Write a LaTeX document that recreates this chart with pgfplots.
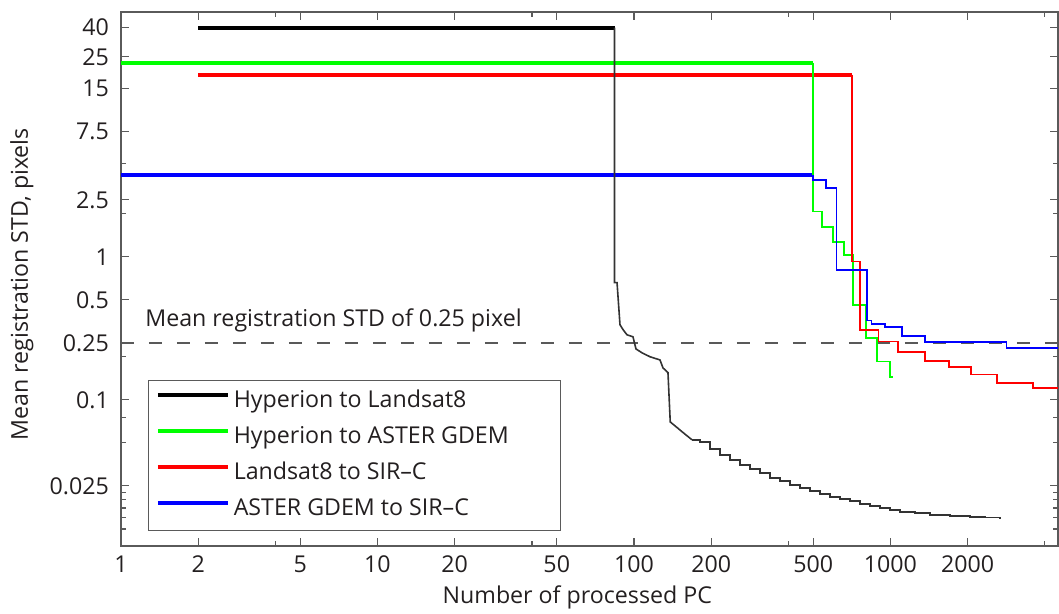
\documentclass[border=0pt]{standalone}
\usepackage{fontspec}
\setmainfont{Open Sans}
\usepackage{pgfplots}
\pgfplotsset{compat=1.18}
\definecolor{txt}{RGB}{35,31,32}
\definecolor{axc}{RGB}{90,90,90}
\newcommand{\fs}{\fontsize{11.6}{13}\selectfont}
\begin{document}
\fs
\begin{tikzpicture}
\begin{axis}[
  name=ax,
  scale only axis,
  width=468.5pt, height=267pt,
  xmode=log, ymode=log,
  xmin=1, xmax=4500, ymin=0.0095, ymax=51.5,
  xtick={1,2,5,10,20,50,100,200,500,1000,2000},
  xticklabels={1,2,5,10,20,50,100,200,500,1000,2000},
  minor xtick={4,40,400,4000},
  ytick={0.025,0.1,0.25,0.5,1,2.5,7.5,15,25,40},
  yticklabels={0.025,0.1,0.25,0.5,1,2.5,7.5,15,25,40},
  minor ytick={0.0125,0.015,0.0175,0.02,0.0225,0.05,0.075,0.2,2,4.5},
  tick align=inside,
  major tick length=4pt, minor tick length=2.5pt,
  axis line style={draw=axc, line width=0.6pt},
  tick style={draw=axc, line width=0.6pt},
  tick label style={font=\fs, text=txt},
  yticklabel style={xshift=-2pt},
  xticklabel style={yshift=-1pt},
  xlabel={Number of processed PC},
  ylabel={Mean registration STD, pixels},
  xlabel style={at={(axis description cs:0.487,-0.0955)}, anchor=center, font=\fs, text=txt},
  ylabel style={at={(axis description cs:-0.1057,0.49)}, anchor=center, font=\fs, text=txt},
  legend style={at={(0.029,0.028)}, anchor=south west, draw=axc, line width=0.6pt, fill=white,
    inner xsep=3.5pt, inner ysep=1.5pt, row sep=0pt,
    nodes={inner xsep=2pt, inner ysep=2pt, text height=10pt, text depth=4pt, text=txt, font=\fs}},
  legend cell align=left,
  legend image code/.code={\draw[#1, line width=2pt] (0pt,3.2pt) -- (35pt,3.2pt);},
]
% reference line
\addplot[forget plot, draw=black!65, line width=0.8pt, dash pattern=on 6.5pt off 7.5pt] coordinates {(1,0.25) (4500,0.25)};

% thick initial segments (legend)
\addplot[black, line width=2pt] coordinates {(2,40) (84,40)};
\addlegendentry{\makebox[158pt][l]{Hyperion to Landsat8}}
\addplot[green, line width=2pt] coordinates {(1,22.7) (500,22.7)};
\addlegendentry{\makebox[158pt][l]{Hyperion to ASTER GDEM}}
\addplot[red, line width=2pt] coordinates {(2,18.7) (708,18.7)};
\addlegendentry{\makebox[158pt][l]{Landsat8 to SIR--C}}
\addplot[blue, line width=2pt] coordinates {(1,3.71) (500,3.71)};
\addlegendentry{\makebox[158pt][l]{ASTER GDEM to SIR--C}}

% thin parts
\addplot[forget plot, black!80, line width=0.8pt] coordinates {
(84,40) (84,0.66) (85.9,0.66) (88.2,0.335) (90.6,0.31) (93.9,0.285) (99.1,0.276)
(101.8,0.227) (107.5,0.213) (115.5,0.2) (126.3,0.19) (129.8,0.167) (135.7,0.155)
(138.5,0.07) (147.2,0.064) (155.4,0.059) (168.4,0.0525)};
\addplot[forget plot, black!80, line width=0.8pt, const plot mark left] coordinates {
(168.4,0.0525) (180.8,0.0509) (197.8,0.0454) (216.4,0.0412) (236.7,0.0381) (259,0.0351)
(283.3,0.0329) (309.9,0.0309) (339,0.0285) (370.9,0.0271) (405.7,0.0254) (443.8,0.0242)
(485.6,0.0231) (531.1,0.0220) (581,0.0210) (635.6,0.0203) (695.3,0.0197) (760.6,0.0187)
(832.1,0.0181) (910.3,0.0176) (995.7,0.0170) (1089,0.0165) (1246,0.0162) (1426,0.0157)
(1706,0.0154) (2041,0.0152) (2336,0.0150) (2673,0.0147)};
\addplot[forget plot, green, line width=0.8pt, const plot mark left] coordinates {
(500,22.7) (500,2.07) (541,1.62) (597,1.27) (659,1.03) (714,0.46) (802,0.27)
(885,0.185) (995,0.145) (1020,0.145)};
\addplot[forget plot, red, line width=0.8pt, const plot mark left] coordinates {
(708,18.7) (708,0.927) (760,0.309) (898,0.256) (1071,0.215) (1363,0.186) (1690,0.169)
(2060,0.150) (2600,0.131) (3600,0.121) (4500,0.121)};
\addplot[forget plot, blue, line width=0.8pt, const plot mark left] coordinates {
(500,3.71) (500,3.45) (561,3.02) (617,0.811) (808,0.359) (845,0.338) (952,0.322)
(1107,0.280) (1364,0.253) (2838,0.230) (4500,0.230)};

\node[anchor=base west, inner sep=0pt, text=txt, font=\fs] at (axis cs:1.24,0.324) {Mean registration STD of 0.25 pixel};
\end{axis}
\pgfresetboundingbox
\path[use as bounding box] ([xshift=-60.5pt,yshift=-34pt]ax.south west) rectangle ([xshift=0.5pt,yshift=6pt]ax.north east);
\end{tikzpicture}
\end{document}
